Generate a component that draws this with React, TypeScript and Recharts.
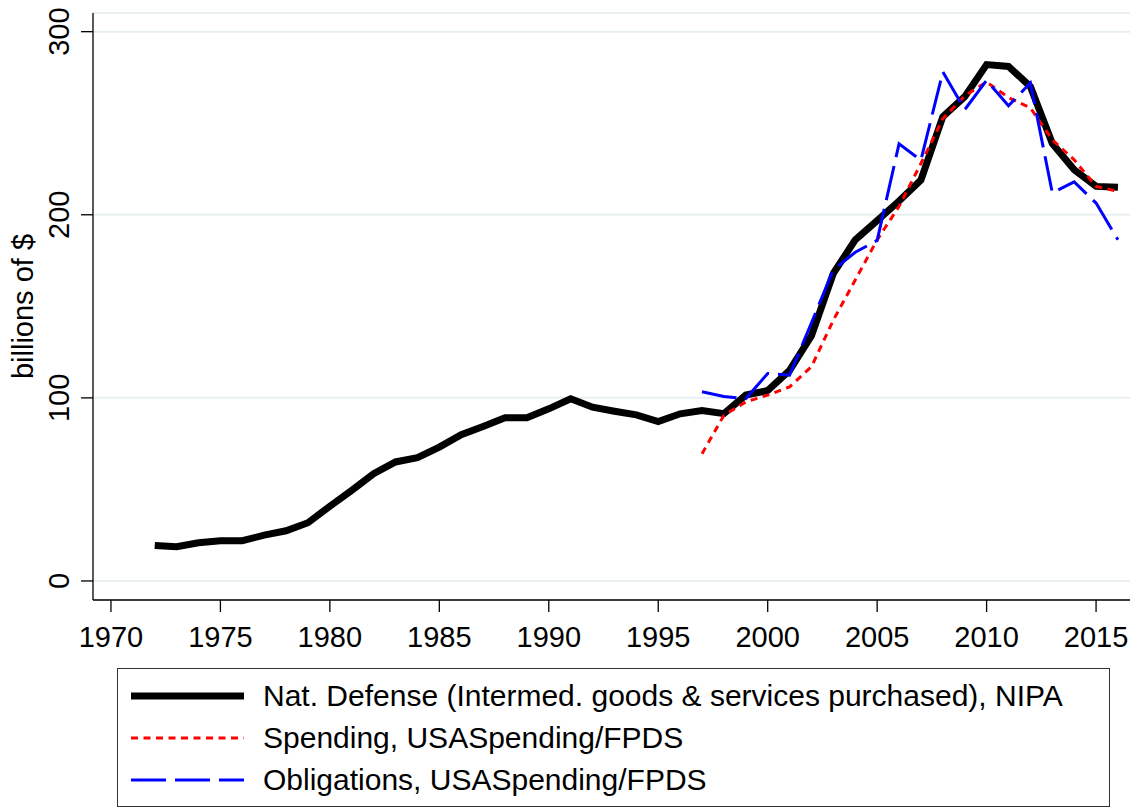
import { LineChart, Line, XAxis, YAxis, CartesianGrid, Legend } from 'recharts'

// Years covered by the NIPA series; the FPDS series start in 1997.
const YEARS = [
  1972, 1973, 1974, 1975, 1976, 1977, 1978, 1979, 1980, 1981, 1982, 1983, 1984, 1985, 1986,
  1987, 1988, 1989, 1990, 1991, 1992, 1993, 1994, 1995, 1996, 1997, 1998, 1999, 2000, 2001,
  2002, 2003, 2004, 2005, 2006, 2007, 2008, 2009, 2010, 2011, 2012, 2013, 2014, 2015, 2016,
]

// billions of $
const NIPA = [
  19.4, 18.7, 20.9, 22, 22, 25, 27.4, 31.8, 40.8, 49.5, 58.6, 65, 67.3, 73.1, 79.9,
  84.4, 89.1, 89.1, 94, 99.5, 94.9, 92.7, 90.7, 87.1, 91.3, 93.1, 91.4, 101.5, 104, 115,
  134, 168, 186.3, 196.8, 207.5, 219, 253.6, 264.5, 282, 281, 270, 239, 224.6, 215.5, 215,
]

const FPDS_YEARS = [
  1997, 1998, 1999, 2000, 2001, 2002, 2003, 2004, 2005, 2006,
  2007, 2008, 2009, 2010, 2011, 2012, 2013, 2014, 2015, 2016,
]
const SPENDING = [
  69.5, 90.5, 97.8, 101.5, 106, 117, 142.5, 164.4, 186.3, 204.6,
  228, 252.5, 265, 272.5, 264, 258.4, 241, 230, 215.5, 212.8,
]
const OBLIGATIONS = [
  103.3, 100.8, 99.6, 113.3, 112.4, 141, 170, 179.5, 186, 238.7,
  229.8, 278, 257.4, 273.4, 259.5, 272, 212, 218, 206.4, 186.3,
]

const X_TICKS = [1970, 1975, 1980, 1985, 1990, 1995, 2000, 2005, 2010, 2015]
const Y_TICKS = [0, 100, 200, 300]

const SERIES = [
  { key: 'nipa', name: 'Nat. Defense (Intermed. goods & services purchased), NIPA', color: '#000000', width: 7, dash: undefined },
  { key: 'spending', name: 'Spending, USASpending/FPDS', color: '#ff0000', width: 3, dash: '7 5.5' },
  { key: 'obligations', name: 'Obligations, USASpending/FPDS', color: '#0000ff', width: 3, dash: '35 9' },
]

const FONT = '"Liberation Sans", Arial, Helvetica, sans-serif'

const rows = YEARS.map((year, i) => {
  const j = FPDS_YEARS.indexOf(year)
  return {
    year,
    nipa: NIPA[i],
    spending: j >= 0 ? SPENDING[j] : null,
    obligations: j >= 0 ? OBLIGATIONS[j] : null,
  }
})

// Stata-style vertical y tick labels, reading bottom to top.
function YTick({ x, y, payload }: { x?: number; y?: number; payload?: { value: number } }) {
  return (
    <g transform={`translate(${(x ?? 0) - 10}, ${y}) rotate(-90)`}>
      <text x={0} y={0} textAnchor="middle" fontSize={29} fill="#000" fontFamily={FONT}>
        {payload?.value}
      </text>
    </g>
  )
}

function YTitle({ viewBox }: { viewBox?: { x: number; y: number; height: number } }) {
  const vb = viewBox ?? { x: 0, y: 0, height: 0 }
  return (
    <g transform={`translate(${vb.x + 33}, ${vb.y + vb.height / 2}) rotate(-90)`}>
      <text x={0} y={0} textAnchor="middle" fontSize={29} fill="#000" fontFamily={FONT}>
        billions of $
      </text>
    </g>
  )
}

function LegendBox() {
  return (
    <div
      style={{
        boxSizing: 'border-box',
        width: '100%',
        height: '100%',
        border: '1.5px solid #333',
        background: '#fff',
        paddingTop: 6,
        fontFamily: FONT,
        fontSize: 30,
        color: '#000',
      }}
    >
      {SERIES.map((s) => (
        <div key={s.key} style={{ display: 'flex', alignItems: 'center', height: 42 }}>
          <svg width={145} height={20} style={{ flex: 'none' }}>
            <line
              x1={13}
              x2={126}
              y1={10}
              y2={10}
              stroke={s.color}
              strokeWidth={s.width}
              strokeDasharray={s.dash}
            />
          </svg>
          <span style={{ whiteSpace: 'nowrap', lineHeight: '30px' }}>{s.name}</span>
        </div>
      ))}
    </div>
  )
}

export default function App() {
  return (
    <div style={{ width: 1136, height: 808, background: '#fff' }}>
      <style>{'body{margin:0}'}</style>
      <LineChart
        width={1136}
        height={808}
        data={rows}
        margin={{ top: 13, right: 6, left: 0, bottom: 148 }}
      >
        <CartesianGrid vertical={false} stroke="#e8eff1" strokeWidth={2} />
        <XAxis
          dataKey="year"
          type="number"
          domain={[1969.18, 2016.55]}
          ticks={X_TICKS}
          allowDataOverflow
          height={60}
          tickSize={12}
          tickMargin={14}
          axisLine={{ stroke: '#000', strokeWidth: 1.3 }}
          tickLine={{ stroke: '#000', strokeWidth: 1.3 }}
          tick={{ fontSize: 29, fill: '#000', fontFamily: FONT }}
        />
        <YAxis
          type="number"
          domain={[-10.4, 310.2]}
          ticks={Y_TICKS}
          allowDataOverflow
          width={93}
          tickSize={12}
          axisLine={{ stroke: '#000', strokeWidth: 1.3 }}
          tickLine={{ stroke: '#000', strokeWidth: 1.3 }}
          tick={<YTick />}
          label={<YTitle />}
        />
        <Legend
          layout="horizontal"
          verticalAlign="middle"
          align="center"
          content={<LegendBox />}
          wrapperStyle={{ left: 117, top: 668, width: 993, height: 139 }}
        />
        {SERIES.map((s) => (
          <Line
            key={s.key}
            dataKey={s.key}
            name={s.name}
            type="linear"
            stroke={s.color}
            strokeWidth={s.width}
            strokeDasharray={s.dash}
            dot={false}
            activeDot={false}
            connectNulls={false}
            isAnimationActive={false}
          />
        ))}
      </LineChart>
    </div>
  )
}
